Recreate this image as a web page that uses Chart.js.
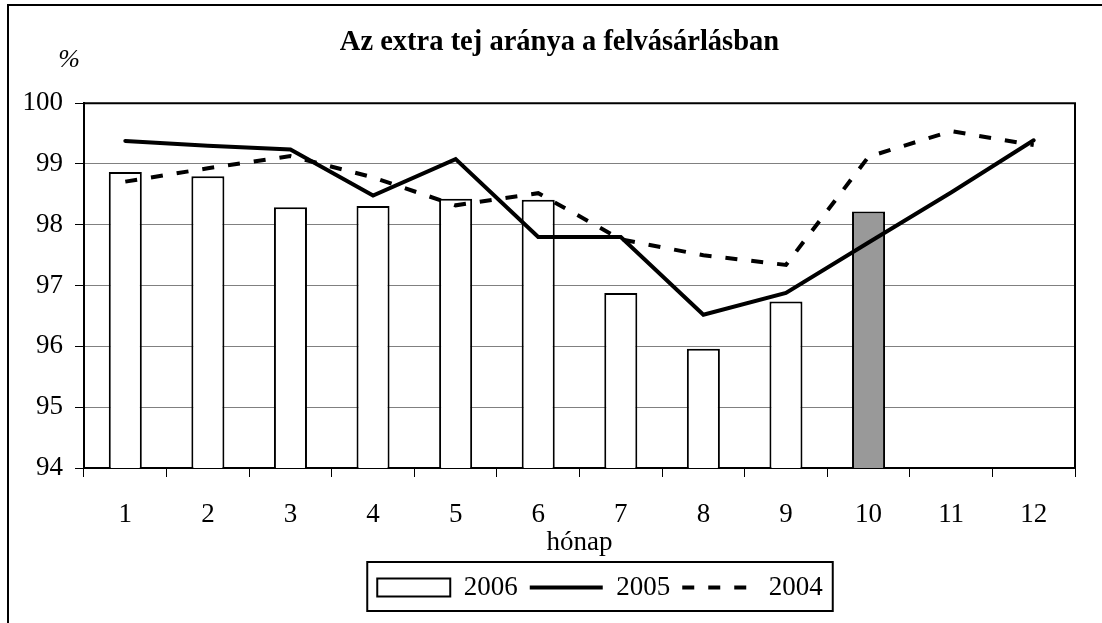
<!DOCTYPE html>
<html>
<head>
<meta charset="utf-8">
<script src="https://cdn.jsdelivr.net/npm/chart.js@4"></script>
<style>
  html, body { margin: 0; padding: 0; background: #fff; }
  #wrap { width: 1102px; height: 623px; }
</style>
</head>
<body>
<div id="wrap"><canvas id="chart"></canvas></div>
<script>
const months = ['1','2','3','4','5','6','7','8','9','10','11','12'];
// 2006 bars (only up to month 10)
const y2006 = [98.87, 98.80, 98.29, 98.31, 98.43, 98.41, 96.88, 95.96, 96.74, 98.22, null, null];
const y2005 = [99.38, 99.30, 99.24, 98.48, 99.08, 97.80, 97.80, 96.52, 96.88, 97.71, 98.53, 99.39];
const y2004 = [98.71, 98.93, 99.13, 98.78, 98.32, 98.52, 97.76, 97.50, 97.34, 99.12, 99.54, 99.31];
const barColors = ['#fff','#fff','#fff','#fff','#fff','#fff','#fff','#fff','#fff','#999999','#fff','#fff'];

const serif = 'Liberation Serif';

// frame, "%" label, plot border and legend box
const decor = {
  id: 'decor',
  afterLayout(chart) {
    // the title sits a bit right of centre in the original
    const tb = chart.titleBlock;
    if (tb) { tb.left += 22; tb.right += 22; }
  },
  afterUpdate(chart) {
    const lg = chart.legend;
    if (!lg || !lg.legendHitBoxes.length) return;
    const hb = lg.legendHitBoxes;
    const l = Math.min(...hb.map(h => h.left));
    const r = Math.max(...hb.map(h => h.left + h.width));
    const d = 600 - (l + r) / 2;
    lg.left += d; lg.right += d;
    hb.forEach(h => { h.left += d; });
  },
  afterDraw(chart) {
    const ctx = chart.ctx;
    const a = chart.chartArea;
    ctx.save();
    ctx.strokeStyle = '#000';
    // outer frame
    ctx.lineWidth = 2;
    ctx.beginPath();
    ctx.moveTo(8, 623);
    ctx.lineTo(8, 5);
    ctx.lineTo(1102, 5);
    ctx.stroke();
    // plot border top + right
    ctx.beginPath();
    ctx.moveTo(a.left, a.top);
    ctx.lineTo(a.right, a.top);
    ctx.lineTo(a.right, a.bottom);
    ctx.stroke();
    // legend box
    const hb = chart.legend.legendHitBoxes;
    if (hb.length) {
      const l = Math.min(...hb.map(h => h.left)) - 10;
      const r = Math.max(...hb.map(h => h.left + h.width)) + 10;
      const t = Math.min(...hb.map(h => h.top)) - 12;
      const b = Math.max(...hb.map(h => h.top + h.height)) + 10;
      ctx.strokeRect(l, t, r - l, b - t);
    }
    // unit label
    ctx.fillStyle = '#000';
    ctx.font = 'italic 26px "' + serif + '"';
    ctx.textAlign = 'center';
    ctx.textBaseline = 'middle';
    ctx.fillText('%', 69, 60);
    ctx.restore();
  }
};

new Chart(document.getElementById('chart'), {
  data: {
    labels: months,
    datasets: [
      {
        type: 'bar',
        label: '2006',
        data: y2006,
        backgroundColor: barColors,
        borderColor: '#000',
        borderWidth: 2,
        categoryPercentage: 1,
        barPercentage: 0.4,
        pointStyle: 'rect',
        order: 1
      },
      {
        type: 'line',
        label: '2005',
        data: y2005,
        borderColor: '#000',
        backgroundColor: '#000',
        borderWidth: 4,
        borderCapStyle: 'round',
        pointRadius: 0,
        pointStyle: 'line',
        tension: 0,
        order: 0
      },
      {
        type: 'line',
        label: '2004',
        data: y2004,
        borderColor: '#000',
        backgroundColor: '#000',
        borderWidth: 4,
        borderDash: [12, 14],
        pointRadius: 0,
        pointStyle: 'line',
        tension: 0,
        order: 0
      }
    ]
  },
  options: {
    responsive: true,
    maintainAspectRatio: false,
    animation: false,
    layout: { padding: { left: 0, right: 27, top: 0, bottom: 12 } },
    plugins: {
      title: {
        display: true,
        text: 'Az extra tej aránya a felvásárlásban',
        color: '#000',
        font: { family: serif, size: 28.5, weight: 'bold' },
        padding: { top: 26, bottom: 43 }
      },
      legend: {
        position: 'bottom',
        labels: {
          color: '#000',
          font: { family: serif, size: 27 },
          usePointStyle: true,
          pointStyleWidth: 73,
          boxHeight: 18,
          padding: 12,
          sort: (a, b) => a.datasetIndex - b.datasetIndex,
          generateLabels(chart) {
            const items = Chart.defaults.plugins.legend.labels.generateLabels(chart);
            return items.map(it => {
              const ds = chart.data.datasets[it.datasetIndex];
              it.lineDash = ds.borderDash || [];
              it.lineWidth = ds.type === 'bar' ? 2 : 4;
              it.strokeStyle = '#000';
              it.fillStyle = ds.type === 'bar' ? '#fff' : '#000';
              it.pointStyle = ds.pointStyle;
              return it;
            });
          }
        }
      },
      tooltip: { enabled: false }
    },
    scales: {
      x: {
        offset: true,
        grid: { display: true, drawOnChartArea: false, offset: true, tickLength: 9, tickColor: '#000', tickWidth: 1 },
        border: { color: '#000', width: 2 },
        ticks: { color: '#000', font: { family: serif, size: 27 }, padding: 22, maxRotation: 0 },
        title: {
          display: true,
          text: 'hónap',
          color: '#000',
          font: { family: serif, size: 27 },
          padding: { top: 0, bottom: 3 }
        },
        afterFit(scale) { scale.height = 94; }
      },
      y: {
        min: 94,
        max: 100,
        ticks: { stepSize: 1, color: '#000', font: { family: serif, size: 27 }, padding: 12 },
        grid: { color: '#808080', lineWidth: 1, tickLength: 9, tickColor: '#000' },
        border: { color: '#000', width: 2 },
        afterFit(scale) { scale.width = 84; }
      }
    }
  },
  plugins: [decor]
});
</script>
</body>
</html>
